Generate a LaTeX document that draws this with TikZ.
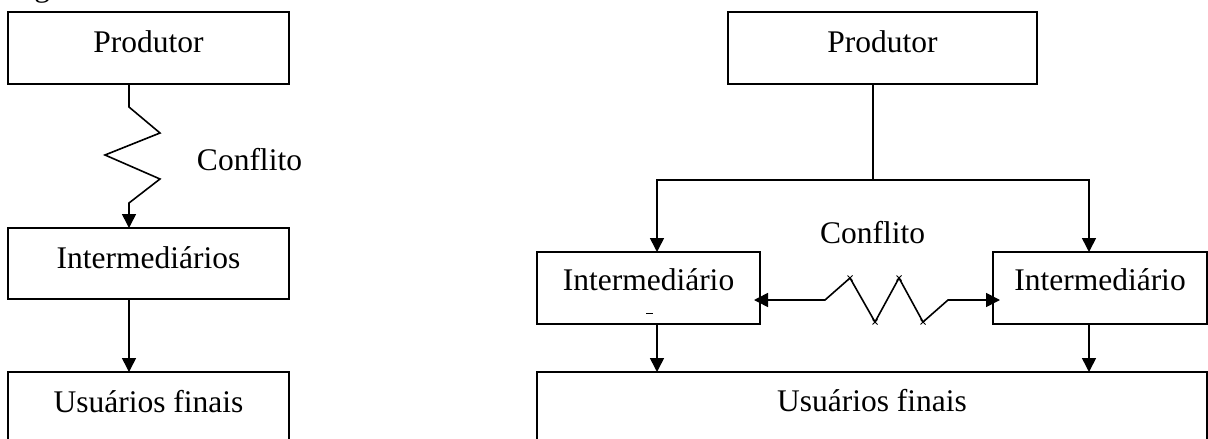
\documentclass[tikz,border=0pt]{standalone}
\usepackage{fontspec}
\setmainfont{Liberation Serif}
\usetikzlibrary{arrows.meta}

\tikzset{
  box/.style={draw, rectangle, inner sep=0pt, outer sep=0pt, line width=1.6pt,
              anchor=north west, align=center},
  openbox/.style={rectangle, inner sep=0pt, outer sep=0pt, anchor=north west, align=center},
  conn/.style={line width=1.6pt},
  arr/.style={conn, -{Triangle[length=14pt,width=14pt]}},
  darr/.style={conn, {Triangle[length=14pt,width=14pt]}-{Triangle[length=14pt,width=14pt]}},
  lbl/.style={anchor=base, inner sep=0pt},
  tick/.style={line width=0.9pt}
}

\begin{document}
\begin{tikzpicture}[x=1pt, y=-1pt, font=\fontsize{31.5}{36}\selectfont]
\useasboundingbox (0,0) rectangle (1208,439);

% caption running above the figure
\node[anchor=base west, inner sep=0pt] (cap) at (8,-4) {Figura};

% ---------- left: single intermediary chain ----------
\node[box, minimum width=281pt, text height=40pt, text depth=32pt] (p1) at (8,12) {Produtor};
\node[box, minimum width=281pt, text height=40pt, text depth=31pt] (i1) at (8,228) {Intermediários};
\node[openbox, minimum width=281pt, text height=40pt, text depth=33pt] (u1) at (8,372) {Usuários finais};
\draw[conn] (u1.south west) -- (u1.north west) -- (u1.north east) -- (u1.south east);

\coordinate (lx) at (129,0);
\draw[arr] (lx |- p1.south) -- ++(0,23) -- ++(31,26) -- ++(-55,22) -- ++(55,24)
           -- ++(-31,24) -- (lx |- i1.north);
\draw[arr] (lx |- i1.south) -- (lx |- u1.north);
\node[lbl] (c1) at (249.5,170) {Conflito};

% ---------- right: two competing intermediaries ----------
\node[box, minimum width=309pt, text height=40pt, text depth=32pt] (p2) at (728,12) {Produtor};
\node[box, minimum width=223pt, text height=38pt, text depth=34pt] (i2) at (537,252) {Intermediário};
\node[box, minimum width=214pt, text height=38pt, text depth=34pt] (i3) at (993,252) {Intermediário};
\node[openbox, minimum width=670pt, text height=39pt, text depth=34pt] (u2) at (537,372) {Usuários finais};
\draw[conn] (u2.south west) -- (u2.north west) -- (u2.north east) -- (u2.south east);

\coordinate (mx) at (873,0);
\coordinate (la) at (657,0);
\coordinate (ra) at (1089,0);
\coordinate (bus) at (873,180);
\draw[conn] (mx |- p2.south) -- (bus);
\draw[arr] (bus) -| (la |- i2.north);
\draw[arr] (bus) -| (ra |- i3.north);
\draw[arr] (la |- i2.south) -- (la |- u2.north);
\draw[arr] (ra |- i3.south) -- (ra |- u2.north);

% conflict spring between the intermediaries
\coordinate (zy) at (0,300);
\draw[darr, shorten <=-6pt, shorten >=-7pt]
  (i2.east |- zy) -- ++(65,0) -- ++(25,-22) -- ++(25,44) -- ++(24,-44)
  -- ++(24,44) -- ++(25,-22) -- (i3.west |- zy);
\foreach \px/\py in {850/278, 899/278, 875/322, 923/322}
  \draw[tick] (\px-2.5,\py-2.5) -- (\px+2.5,\py+2.5) (\px-2.5,\py+2.5) -- (\px+2.5,\py-2.5);
\node[lbl] (c2) at (872.5,243) {Conflito};

% small stray mark under the left intermediary label
\draw[line width=1pt] (646,313) -- (653,313);
\end{tikzpicture}
\end{document}
